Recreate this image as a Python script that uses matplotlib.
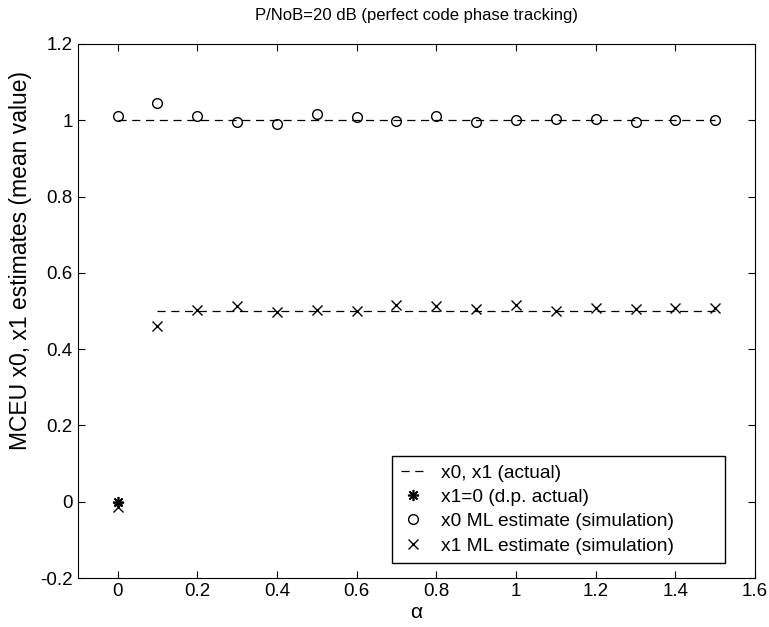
import matplotlib.pyplot as plt
import numpy as np

plt.rcParams['font.family'] = ['Liberation Sans', 'DejaVu Sans']

# alpha values for the simulation runs
alpha = [0.0, 0.1, 0.2, 0.3, 0.4, 0.5, 0.6, 0.7, 0.8, 0.9, 1.0, 1.1, 1.2, 1.3, 1.4, 1.5]

# actual values
x0_actual = [1.0] * 16
x1_alpha = alpha[1:]
x1_actual = [0.5] * 15

# data-pilot case (alpha = 0)
dp_alpha = [0.0]
dp_x1 = [0.0]

# mean ML estimates from simulation
x0_est = [1.012, 1.045, 1.01, 0.994, 0.991, 1.015, 1.008, 0.998,
          1.012, 0.995, 1.0, 1.002, 1.002, 0.995, 1.0, 1.0]
x1_est = [-0.013, 0.46, 0.503, 0.512, 0.498, 0.503, 0.5, 0.517,
          0.513, 0.505, 0.515, 0.5, 0.508, 0.505, 0.508, 0.508]

fig = plt.figure(figsize=(7.69, 6.27), dpi=100)
ax = fig.add_axes([0.101, 0.078, 0.881, 0.852])

l1, = ax.plot(alpha, x0_actual, 'k--', lw=0.9, dashes=(6.5, 4.5))
ax.plot(x1_alpha, x1_actual, 'k--', lw=0.9, dashes=(6.5, 4.5))
l2, = ax.plot(dp_alpha, dp_x1, 'k', ls='none', marker=(8, 2, 0), ms=8, mew=1.2)
l3, = ax.plot(alpha, x0_est, 'ko', mfc='none', ms=7, mew=1.0)
l4, = ax.plot(alpha, x1_est, 'kx', ms=7, mew=1.0)

ax.set_xlim(-0.1, 1.6)
ax.set_ylim(-0.2, 1.2)
ax.set_xticks(np.arange(0, 1.61, 0.2))
ax.set_xticklabels(['0', '0.2', '0.4', '0.6', '0.8', '1', '1.2', '1.4', '1.6'])
ax.set_yticks(np.arange(-0.2, 1.21, 0.2))
ax.set_yticklabels(['-0.2', '0', '0.2', '0.4', '0.6', '0.8', '1', '1.2'])
ax.tick_params(direction='in', top=True, right=True, labelsize=13.5, length=5)

ax.set_title('P/NoB=20 dB (perfect code phase tracking)', fontsize=12, pad=17)
ax.set_xlabel('α', fontsize=15, labelpad=2)
ax.set_ylabel('MCEU x0, x1 estimates (mean value)', fontsize=16.5)
ax.yaxis.set_label_coords(-0.068, 0.595)

ax.legend([l1, l2, l3, l4],
          ['x0, x1 (actual)', 'x1=0 (d.p. actual)',
           'x0 ML estimate (simulation)', 'x1 ML estimate (simulation)'],
          loc='lower right', bbox_to_anchor=(0.464, 0.028, 0.492, 0.3),
          mode='expand', fontsize=13.8,
          frameon=True, fancybox=False, edgecolor='k', framealpha=1,
          handlelength=1.3, handletextpad=0.8, labelspacing=0.36,
          borderpad=0.45, borderaxespad=0)

fig.savefig('out.png', dpi=100)
